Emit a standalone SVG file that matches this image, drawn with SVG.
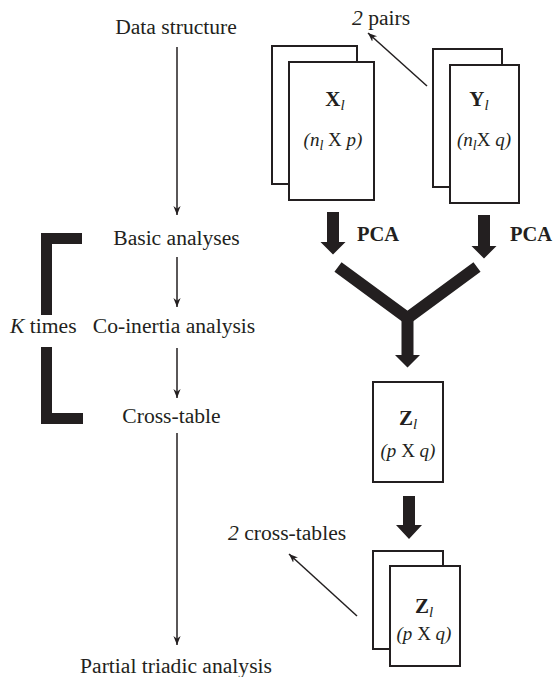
<svg xmlns="http://www.w3.org/2000/svg" width="556" height="677" viewBox="0 0 556 677">
<defs>
<style>
text{font-family:"Liberation Serif","Times New Roman",serif;fill:#231f20}
.lbl{font-size:21.6px}
.bold{font-weight:bold}
.it{font-style:italic}
.pca{font-size:20.5px;font-weight:bold}
.dim{font-size:19px;font-style:italic}
.sym{font-size:21px;font-weight:bold}
.box{fill:#fff;stroke:#231f20;stroke-width:2}
.thin{stroke:#231f20;stroke-width:1.5;fill:none;marker-end:url(#ah)}
.thick{fill:#231f20}
.bar{fill:none;stroke:#231f20;stroke-width:11;stroke-linejoin:miter}
</style>
<marker id="ah" viewBox="0 0 10 10" refX="10" refY="5" markerWidth="9" markerHeight="9" markerUnits="userSpaceOnUse" orient="auto">
<path d="M0,1 L10,5 L0,9 L3,5 Z" fill="#231f20"/>
</marker>
</defs>

<g id="left-flow-labels">
<text class="lbl" x="176" y="34" text-anchor="middle">Data structure</text>
<text class="lbl" x="176.5" y="245" text-anchor="middle">Basic analyses</text>
<text class="lbl" x="174" y="333" text-anchor="middle">Co-inertia analysis</text>
<text class="lbl" x="171.5" y="423" text-anchor="middle">Cross-table</text>
<text class="lbl" x="176" y="673" text-anchor="middle">Partial triadic analysis</text>
</g>

<g id="k-times">
<path class="bar" d="M46.5,315 L46.5,238.5 L82,238.5"/>
<path class="bar" d="M46.5,347 L46.5,418.5 L83,418.5"/>
<text class="lbl" x="10" y="333"><tspan class="it">K</tspan> times</text>
</g>

<g id="node-X">
<rect class="box" x="272" y="46" width="85" height="138"/>
<rect class="box" x="289" y="62" width="85" height="138"/>
<text class="sym" x="335" y="106" text-anchor="middle">X<tspan class="it" font-weight="normal" font-size="15" dy="4">l</tspan></text>
<text class="dim" x="333" y="146" text-anchor="middle">(n<tspan font-size="14" dy="4">l</tspan><tspan dy="-4" font-style="normal"> X </tspan>p)</text>
</g>

<g id="node-Y">
<rect class="box" x="433" y="49" width="69" height="138"/>
<rect class="box" x="450" y="65" width="69" height="138"/>
<text class="sym" x="479" y="106" text-anchor="middle">Y<tspan class="it" font-weight="normal" font-size="15" dy="4">l</tspan></text>
<text class="dim" x="484" y="146" text-anchor="middle">(n<tspan font-size="14" dy="4">l</tspan><tspan dy="-4" font-style="normal">X </tspan>q)</text>
</g>

<g id="node-pairs-label">
<text class="lbl" x="352" y="25"><tspan class="it">2</tspan> pairs</text>
</g>

<g id="node-Z">
<rect class="box" x="373" y="382" width="70" height="100"/>
<text class="sym" x="408" y="425" text-anchor="middle">Z<tspan class="it" font-weight="normal" font-size="15" dy="4">l</tspan></text>
<text class="dim" x="408" y="457" text-anchor="middle">(p<tspan font-style="normal"> X </tspan>q)</text>
</g>

<g id="node-Z-stack">
<rect class="box" x="373" y="551" width="70" height="98"/>
<rect class="box" x="390" y="566" width="70" height="100"/>
<text class="sym" x="424" y="613" text-anchor="middle">Z<tspan class="it" font-weight="normal" font-size="15" dy="4">l</tspan></text>
<text class="dim" x="424" y="640" text-anchor="middle">(p<tspan font-style="normal"> X </tspan>q)</text>
</g>

<g id="node-crosstables-label">
<text class="lbl" x="228" y="540"><tspan class="it">2</tspan> cross-tables</text>
</g>

<g id="pca-labels">
<text class="pca" x="357" y="241">PCA</text>
<text class="pca" x="510" y="241">PCA</text>
</g>

<g id="connectors">
<line class="thin" x1="177" y1="47" x2="177" y2="215"/>
<line class="thin" x1="177" y1="257" x2="177" y2="307"/>
<line class="thin" x1="177" y1="348" x2="177" y2="398"/>
<line class="thin" x1="177" y1="433" x2="177" y2="645"/>
<line class="thin" x1="427" y1="86" x2="368" y2="33"/>
<line class="thin" x1="357" y1="616" x2="289" y2="554"/>
<path class="thick" d="M327,212 H339 V242 H345.5 L333,254.5 L320.5,242 H327 Z"/>
<path class="thick" d="M478,215 H490 V246 H496.5 L484,258.5 L471.5,246 H478 Z"/>
<path d="M338,267 L407.5,318 L477,267" fill="none" stroke="#231f20" stroke-width="12" stroke-linejoin="miter"/>
<path class="thick" d="M401.5,318 H413.5 V355 H420 L407.5,367.5 L395,355 H401.5 Z"/>
<path class="thick" d="M403,496 H415 V525 H422 L409,539 L396,525 H403 Z"/>
</g>
</svg>
